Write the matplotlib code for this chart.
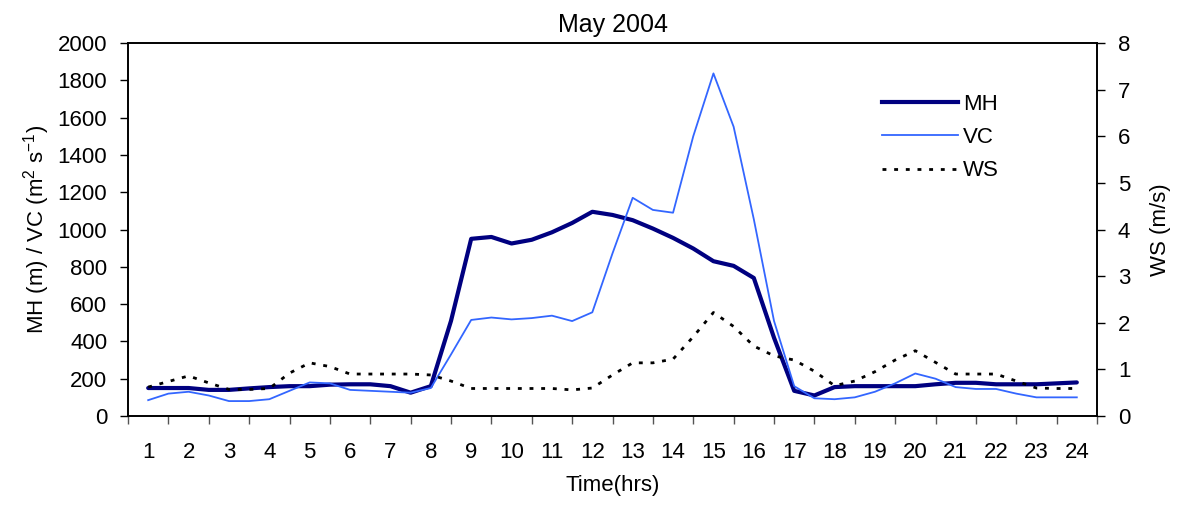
import matplotlib.pyplot as plt
from matplotlib.lines import Line2D

plt.rcParams["font.family"] = ["Liberation Sans", "DejaVu Sans"]
plt.rcParams["mathtext.default"] = "regular"

# half-hourly readings, hour 1 .. 24
hours = [1, 1.5, 2, 2.5, 3, 3.5, 4, 4.5, 5, 5.5, 6, 6.5, 7, 7.5, 8, 8.5,
         9, 9.5, 10, 10.5, 11, 11.5, 12, 12.5, 13, 13.5, 14, 14.5, 15, 15.5,
         16, 16.5, 17, 17.5, 18, 18.5, 19, 19.5, 20, 20.5, 21, 21.5, 22,
         22.5, 23, 23.5, 24]

mh = [150, 150, 150, 140, 140, 148, 155, 160, 160, 168, 170, 170, 160, 125,
      160, 510, 950, 960, 925, 945, 985, 1035, 1095, 1078, 1050, 1005, 955,
      898, 830, 805, 740, 420, 135, 110, 155, 160, 160, 160, 160, 170, 178,
      178, 170, 170, 170, 175, 180]

vc = [85, 120, 130, 110, 80, 80, 90, 135, 180, 175, 140, 135, 130, 125, 150,
      330, 515, 528, 518, 525, 538, 509, 556, 872, 1170, 1105, 1090, 1500,
      1837, 1551, 1055, 510, 160, 95, 90, 100, 130, 175, 228, 200, 155, 145,
      145, 120, 100, 100, 100]

ws = [0.62, 0.74, 0.86, 0.71, 0.57, 0.57, 0.59, 0.92, 1.14, 1.06, 0.9, 0.9,
      0.9, 0.9, 0.88, 0.75, 0.59, 0.59, 0.59, 0.59, 0.59, 0.56, 0.6, 0.88,
      1.14, 1.14, 1.22, 1.7, 2.22, 1.92, 1.5, 1.29, 1.2, 0.96, 0.65, 0.75,
      0.95, 1.2, 1.4, 1.15, 0.9, 0.9, 0.9, 0.75, 0.6, 0.59, 0.59]

hour_labels = [str(h) for h in range(1, 25)]

WS_STYLE = (0, (1.4, 2.8))

fig = plt.figure(figsize=(11.82, 5.08), dpi=100)
ax = fig.add_axes([128 / 1182, 1 - 416 / 508, 969 / 1182, 373 / 508])
ax2 = ax.twinx()

ax.plot(hours, mh, color="#000080", lw=3.0, solid_capstyle="round", zorder=3)
ax.plot(hours, vc, color="#3366FF", lw=1.3, zorder=4)
ax2.plot(hours, ws, color="black", lw=2.0, linestyle=WS_STYLE)

ax.set_xlim(0.5, 24.5)
ax.set_ylim(0, 2000)
ax2.set_ylim(0, 8)

ax.set_xticks(range(1, 25))
ax.set_xticklabels(hour_labels, fontsize=16)
ax.set_xticks([k + 0.5 for k in range(0, 25)], minor=True)
ax.tick_params(axis="x", which="major", length=0, pad=19)
ax.tick_params(axis="x", which="minor", length=6, width=1, direction="out",
               color="#555555")

ax.set_yticks(range(0, 2001, 200))
ax.tick_params(axis="y", labelsize=16, length=6, width=1, pad=9)
ax2.set_yticks(range(0, 9))
ax2.tick_params(axis="y", labelsize=16, length=6, width=1, pad=9)

for a in (ax, ax2):
    for s in a.spines.values():
        s.set_linewidth(1.2)

ax.set_xlabel("Time(hrs)", fontsize=16, labelpad=8)
ax.set_ylabel(r"MH (m) / VC (m$^{2}$ s$^{-1}$)", fontsize=16, labelpad=4)
ax2.set_ylabel("WS (m/s)", fontsize=16, labelpad=14)
ax.set_title("May 2004", fontsize=18, pad=8)

handles = [
    Line2D([], [], color="#000080", lw=3.0),
    Line2D([], [], color="#3366FF", lw=1.3),
    Line2D([], [], color="black", lw=2.0, linestyle=WS_STYLE),
]
ax2.legend(handles, ["MH", "VC", "WS"], loc="upper left",
           bbox_to_anchor=(882 / 1182, 1 - 94 / 508),
           bbox_transform=fig.transFigure, frameon=False, fontsize=16,
           handlelength=3.4, handletextpad=0.25, labelspacing=0.55,
           borderpad=0, borderaxespad=0)

fig.savefig("out.png", dpi=100)
